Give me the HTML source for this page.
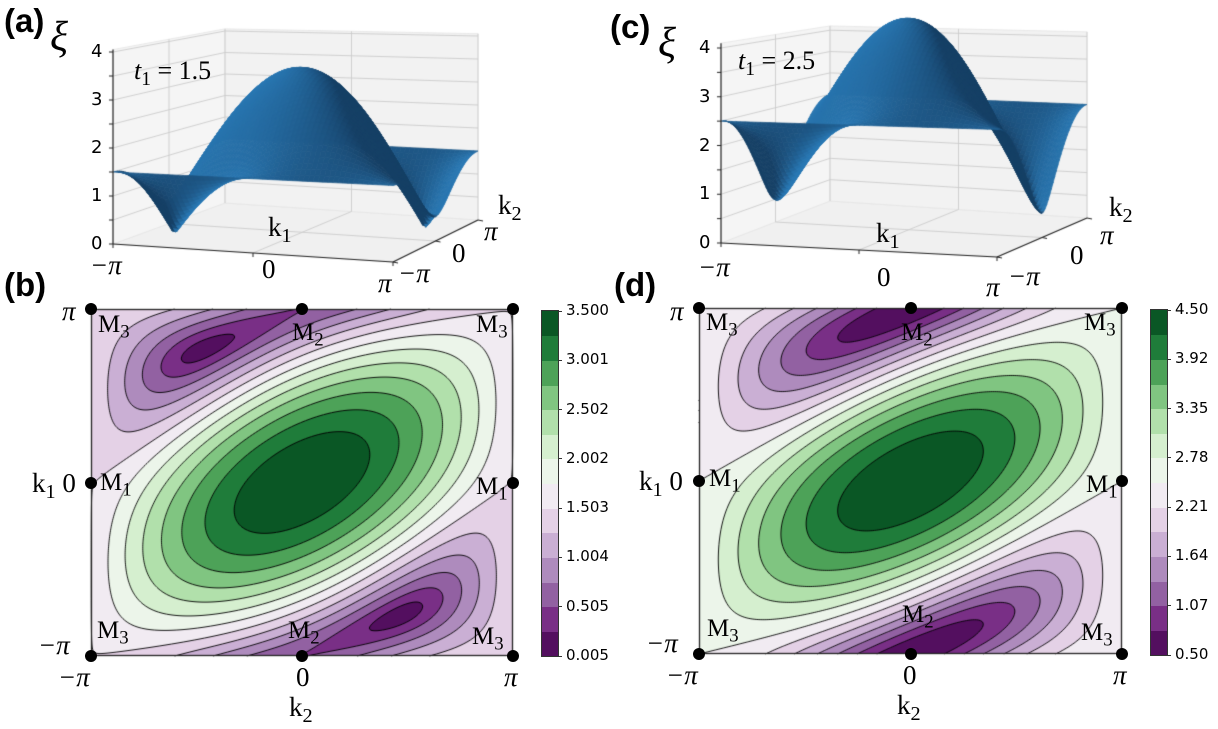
<!DOCTYPE html>
<html><head><meta charset="utf-8">
<style>
html,body{margin:0;padding:0;background:#fff;}
#root{position:relative;width:1218px;height:729px;overflow:hidden;background:#fff;}
canvas{position:absolute;left:0;top:0;}
.t{position:absolute;line-height:1;white-space:nowrap;color:#000;}
.sans{font-family:"DejaVu Sans","Liberation Sans",sans-serif;}
.serif{font-family:"Liberation Serif","DejaVu Serif",serif;}
.pl{font-family:"Liberation Sans",sans-serif;font-weight:bold;font-size:33px;}
.it{font-style:italic;}
sub{font-size:75%;vertical-align:-0.3em;line-height:0;}
.cb{position:absolute;}
.mk{position:absolute;width:12px;height:12px;border-radius:50%;background:#000;}
</style></head>
<body>
<div id="root">
<canvas id="cv" width="1218" height="729"></canvas>

<div class="t pl" style="left:4px;top:4px">(a)</div>
<div class="t pl" style="left:610px;top:10px">(c)</div>
<div class="t pl" style="left:4px;top:268px">(b)</div>
<div class="t pl" style="left:614px;top:268px">(d)</div>

<div class="t serif it" style="left:50px;top:16px;font-size:42px">ξ</div>
<div class="t serif" style="left:134px;top:58px;font-size:26px"><i>t</i><sub>1</sub> = 1.5</div>
<div class="t serif" style="left:268px;top:214px;font-size:27px">k<sub>1</sub></div>
<div class="t serif" style="left:498px;top:192px;font-size:27px">k<sub>2</sub></div>
<div class="t serif it" style="left:90px;top:252px;font-size:27px">−π</div>
<div class="t serif" style="left:262px;top:256px;font-size:27px">0</div>
<div class="t serif it" style="left:378px;top:270px;font-size:27px">π</div>
<div class="t serif it" style="left:398px;top:260px;font-size:27px">−π</div>
<div class="t serif" style="left:452px;top:240px;font-size:27px">0</div>
<div class="t serif it" style="left:484px;top:218px;font-size:27px">π</div>

<div class="t serif it" style="left:658px;top:22px;font-size:42px">ξ</div>
<div class="t serif" style="left:738px;top:48px;font-size:26px"><i>t</i><sub>1</sub> = 2.5</div>
<div class="t serif" style="left:876px;top:220px;font-size:27px">k<sub>1</sub></div>
<div class="t serif" style="left:1109px;top:194px;font-size:27px">k<sub>2</sub></div>
<div class="t serif it" style="left:698px;top:254px;font-size:27px">−π</div>
<div class="t serif" style="left:877px;top:264px;font-size:27px">0</div>
<div class="t serif it" style="left:986px;top:274px;font-size:27px">π</div>
<div class="t serif it" style="left:1008px;top:263px;font-size:27px">−π</div>
<div class="t serif" style="left:1070px;top:242px;font-size:27px">0</div>
<div class="t serif it" style="left:1100px;top:222px;font-size:27px">π</div>

<div class="t serif it" style="left:62px;top:298px;font-size:27px">π</div>
<div class="t serif" style="left:32px;top:470px;font-size:27px">k<sub>1</sub> 0</div>
<div class="t serif it" style="left:38px;top:632px;font-size:27px">−π</div>
<div class="t serif it" style="left:58px;top:664px;font-size:27px">−π</div>
<div class="t serif" style="left:296px;top:664px;font-size:27px">0</div>
<div class="t serif it" style="left:504px;top:664px;font-size:27px">π</div>
<div class="t serif" style="left:289px;top:694px;font-size:27px">k<sub>2</sub></div>
<div class="t serif" style="left:98px;top:312px;font-size:25px">M<sub>3</sub></div>
<div class="t serif" style="left:292px;top:320px;font-size:25px">M<sub>2</sub></div>
<div class="t serif" style="left:476px;top:312px;font-size:25px">M<sub>3</sub></div>
<div class="t serif" style="left:100px;top:470px;font-size:25px">M<sub>1</sub></div>
<div class="t serif" style="left:476px;top:474px;font-size:25px">M<sub>1</sub></div>
<div class="t serif" style="left:97px;top:618px;font-size:25px">M<sub>3</sub></div>
<div class="t serif" style="left:288px;top:618px;font-size:25px">M<sub>2</sub></div>
<div class="t serif" style="left:472px;top:624px;font-size:25px">M<sub>3</sub></div>

<div class="t serif it" style="left:670px;top:298px;font-size:27px">π</div>
<div class="t serif" style="left:639px;top:468px;font-size:27px">k<sub>1</sub> 0</div>
<div class="t serif it" style="left:646px;top:630px;font-size:27px">−π</div>
<div class="t serif it" style="left:666px;top:662px;font-size:27px">−π</div>
<div class="t serif" style="left:903px;top:662px;font-size:27px">0</div>
<div class="t serif it" style="left:1113px;top:662px;font-size:27px">π</div>
<div class="t serif" style="left:897px;top:692px;font-size:27px">k<sub>2</sub></div>
<div class="t serif" style="left:706px;top:310px;font-size:25px">M<sub>3</sub></div>
<div class="t serif" style="left:901px;top:320px;font-size:25px">M<sub>2</sub></div>
<div class="t serif" style="left:1084px;top:310px;font-size:25px">M<sub>3</sub></div>
<div class="t serif" style="left:709px;top:466px;font-size:25px">M<sub>1</sub></div>
<div class="t serif" style="left:1086px;top:472px;font-size:25px">M<sub>1</sub></div>
<div class="t serif" style="left:707px;top:616px;font-size:25px">M<sub>3</sub></div>
<div class="t serif" style="left:902px;top:602px;font-size:25px">M<sub>2</sub></div>
<div class="t serif" style="left:1081px;top:620px;font-size:25px">M<sub>3</sub></div>
</div>

<script>
// ---- data ----
const t1Values = [1.5, 2.5];
const levelRangeB = [0.005, 3.5];
const levelRangeD = [0.5, 4.5];
const nBands = 14;
const cbTicksB = ["0.005","0.505","1.004","1.503","2.002","2.502","3.001","3.500"];
const cbTicksD = ["0.50","1.07","1.64","2.21","2.78","3.35","3.92","4.50"];
const zTicks = ["0","1","2","3","4"];
const markerK2 = [-1, 0, 1, -1, 1, -1, 0, 1];   // in units of pi
const markerK1 = [1, 1, 1, 0, 0, -1, -1, -1];

const PI = Math.PI;
const root = document.getElementById('root');
const ctx = document.getElementById('cv').getContext('2d');

function xi(t, k1, k2){
  const re = t + Math.cos(k1) + Math.cos(k1 - k2);
  const im = Math.sin(k1) + Math.sin(k1 - k2);
  return Math.sqrt(re*re + im*im);
}
const PRGN = [[64,0,75],[118,42,131],[153,112,171],[194,165,207],[231,212,232],[247,247,247],[217,240,211],[166,219,160],[90,174,97],[27,120,55],[0,68,27]];
function cmap(f){
  f = Math.max(0, Math.min(1, f)) * 10;
  const i = Math.min(9, Math.floor(f)), r = f - i;
  const a = PRGN[i], b = PRGN[i+1];
  return [0,1,2].map(c => Math.round(a[c] + (b[c]-a[c])*r));
}

function contourPanel(box, t, range, ticks, cbBox, tag){
  const lo = range[0], hi = range[1], step = (hi - lo) / nBands;
  const img = ctx.createImageData(box.w, box.h);
  for (let py = 0; py < box.h; py++){
    const k1 = PI - (py + 0.5) / box.h * 2 * PI;
    for (let px = 0; px < box.w; px++){
      const k2 = -PI + (px + 0.5) / box.w * 2 * PI;
      let b = Math.floor((xi(t, k1, k2) - lo) / step);
      b = Math.max(0, Math.min(nBands - 1, b));
      const c = cmap((b + 0.5) / nBands);
      const o = (py * box.w + px) * 4;
      img.data[o] = c[0]; img.data[o+1] = c[1]; img.data[o+2] = c[2]; img.data[o+3] = 255;
    }
  }
  ctx.putImageData(img, box.x, box.y);
  const nx = Math.round(box.w / 2), ny = Math.round(box.h / 2);
  const V = [];
  for (let j = 0; j <= ny; j++){
    const row = [];
    const k1 = PI - j / ny * 2 * PI;
    for (let i = 0; i <= nx; i++) row.push(xi(t, k1, -PI + i / nx * 2 * PI));
    V.push(row);
  }
  ctx.save();
  ctx.strokeStyle = 'rgba(0,0,0,0.9)'; ctx.lineWidth = 1;
  ctx.beginPath();
  const X = i => box.x + i / nx * box.w, Y = j => box.y + j / ny * box.h;
  for (let m = 1; m < nBands; m++){
    const L = lo + m * step;
    for (let j = 0; j < ny; j++) for (let i = 0; i < nx; i++){
      const a = V[j][i], b = V[j][i+1], c = V[j+1][i+1], d = V[j+1][i];
      const pts = [];
      if ((a - L) * (b - L) < 0){ const r = (L - a) / (b - a); pts.push([X(i + r), Y(j)]); }
      if ((b - L) * (c - L) < 0){ const r = (L - b) / (c - b); pts.push([X(i + 1), Y(j + r)]); }
      if ((d - L) * (c - L) < 0){ const r = (L - d) / (c - d); pts.push([X(i + r), Y(j + 1)]); }
      if ((a - L) * (d - L) < 0){ const r = (L - a) / (d - a); pts.push([X(i), Y(j + r)]); }
      for (let p = 0; p + 1 < pts.length; p += 2){ ctx.moveTo(pts[p][0], pts[p][1]); ctx.lineTo(pts[p+1][0], pts[p+1][1]); }
    }
  }
  ctx.stroke();
  ctx.strokeStyle = '#222'; ctx.lineWidth = 1.3;
  ctx.strokeRect(box.x + 0.5, box.y + 0.5, box.w - 1, box.h - 1);
  ctx.restore();
  for (let n = 0; n < markerK1.length; n++){
    const m = document.createElement('div');
    m.className = 'mk';
    
    
    const x = box.x + (markerK2[n] + 1) / 2 * box.w, y = box.y + (1 - markerK1[n]) / 2 * box.h;
    m.style.left = (x - 6) + 'px'; m.style.top = (y - 6) + 'px';
    root.appendChild(m);
  }
  const bh = cbBox.h / nBands;
  for (let b = 0; b < nBands; b++){
    const c = cmap((b + 0.5) / nBands);
    const r = document.createElement('div');
    r.className = 'cb';
    
    
    r.style.left = cbBox.x + 'px'; r.style.width = cbBox.w + 'px';
    r.style.top = (cbBox.y + cbBox.h - (b + 1) * bh) + 'px'; r.style.height = (bh + 0.6) + 'px';
    r.style.background = 'rgb(' + c.join(',') + ')';
    root.appendChild(r);
  }
  const fr = document.createElement('div');
  fr.className = 'cb';
  
  
  fr.style.cssText += 'left:' + (cbBox.x - 1) + 'px;top:' + (cbBox.y - 1) + 'px;width:' + cbBox.w + 'px;height:' + cbBox.h + 'px;border:1px solid #333;';
  root.appendChild(fr);
  for (let k = 0; k < ticks.length; k++){
    const y = cbBox.y + cbBox.h - k / (ticks.length - 1) * cbBox.h;
    const tk = document.createElement('div');
    tk.className = 'cb';
    
    
    tk.style.cssText += 'left:' + (cbBox.x + cbBox.w) + 'px;top:' + (y - 0.5) + 'px;width:4px;height:1px;background:#333;';
    root.appendChild(tk);
    const lb = document.createElement('div');
    lb.className = 't sans';
    
    
    lb.style.left = (cbBox.x + cbBox.w + 8) + 'px'; lb.style.top = (y - 8) + 'px'; lb.style.fontSize = '15px';
    lb.textContent = ticks[k];
    root.appendChild(lb);
  }
}

function surfacePanel(g, t, tag){
  function P(u, v, z){
    const w = [(1-u)*(1-v), u*(1-v), (1-u)*v, u*v];
    const x = w[0]*g.FL[0] + w[1]*g.FR[0] + w[2]*g.BL[0] + w[3]*g.BR[0];
    const y = w[0]*g.FL[1] + w[1]*g.FR[1] + w[2]*g.BL[1] + w[3]*g.BR[1];
    const s = w[0]*g.s[0] + w[1]*g.s[1] + w[2]*g.s[2] + w[3]*g.s[3];
    return [x, y - z * s];
  }
  function poly(pts, fill, stroke, lw){
    ctx.beginPath(); ctx.moveTo(pts[0][0], pts[0][1]);
    for (let i = 1; i < pts.length; i++) ctx.lineTo(pts[i][0], pts[i][1]);
    ctx.closePath();
    if (fill){ ctx.fillStyle = fill; ctx.fill(); }
    if (stroke){ ctx.strokeStyle = stroke; ctx.lineWidth = lw; ctx.stroke(); }
  }
  function line(a, b, col, lw){ ctx.beginPath(); ctx.moveTo(a[0], a[1]); ctx.lineTo(b[0], b[1]); ctx.strokeStyle = col; ctx.lineWidth = lw; ctx.stroke(); }
  const zm = g.zmax;
  poly([P(0,0,0), P(1,0,0), P(1,1,0), P(0,1,0)], '#f0f0f0', '#e4e4e4', 0.8);
  poly([P(0,0,0), P(0,1,0), P(0,1,zm), P(0,0,zm)], '#f5f5f5', '#e4e4e4', 0.8);
  poly([P(0,1,0), P(1,1,0), P(1,1,zm), P(0,1,zm)], '#f2f2f2', '#e4e4e4', 0.8);
  const gc = '#cccccc';
  for (let z = 0.5; z <= 4.01; z += 0.5){
    line(P(0,0,z), P(0,1,z), gc, 0.9);
    line(P(0,1,z), P(1,1,z), gc, 0.9);
  }
  line(P(0,0.5,0), P(0,0.5,zm), gc, 0.9);
  line(P(0.5,1,0), P(0.5,1,zm), gc, 0.9);
  line(P(0,1,0), P(0,1,zm), gc, 0.9);
  line(P(1,1,0), P(1,1,zm), gc, 0.9);
  line(P(0.5,0,0), P(0.5,1,0), gc, 0.9);
  line(P(0,0.5,0), P(1,0.5,0), gc, 0.9);
  const n = 56, Z = [];
  for (let i = 0; i <= n; i++){
    const row = [];
    for (let j = 0; j <= n; j++){
      const k1 = -PI + i / n * 2 * PI, k2 = -PI + j / n * 2 * PI;
      row.push(xi(t, k1, -k2));
    }
    Z.push(row);
  }
  const quads = [];
  for (let i = 0; i < n; i++) for (let j = 0; j < n; j++){
    const u0 = i / n, u1 = (i + 1) / n, v0 = j / n, v1 = (j + 1) / n;
    const dzu = ((Z[i+1][j] + Z[i+1][j+1]) - (Z[i][j] + Z[i][j+1])) / 2 * n / 4 * 0.8;
    const dzv = ((Z[i][j+1] + Z[i+1][j+1]) - (Z[i][j] + Z[i+1][j])) / 2 * n / 4 * 0.8;
    let nx = -dzu, ny = -dzv, nz = 1; const nl = Math.hypot(nx, ny, nz);
    nx /= nl; ny /= nl; nz /= nl;
    const L = [-0.75, -0.05, 0.66];
    let I = nx*L[0] + ny*L[1] + nz*L[2];
    let f = Math.max(0, Math.min(1, (I - 0.1) / 0.9));
    const dark = [22,64,102], light = [42,122,182];
    const c = dark.map((d, k) => Math.round(d + (light[k] - d) * f));
    quads.push({pts: [P(u0,v0,Z[i][j]), P(u1,v0,Z[i+1][j]), P(u1,v1,Z[i+1][j+1]), P(u0,v1,Z[i][j+1])],
                d: (v0 + v1) / 2 + 0.35 * (1 - (u0 + u1) / 2), col: 'rgb(' + c.join(',') + ')'});
  }
  quads.sort((a, b) => b.d - a.d);
  for (const q of quads) poly(q.pts, q.col, q.col, 0.7);
  line(P(0,0,0), P(1,0,0), '#222', 1.2);
  line(P(1,0,0), P(1,1,0), '#222', 1.2);
  line(P(0,0,0), P(0,0,zm), '#222', 1.2);
  for (let z = 0; z <= 4.01; z += 0.5){
    const a = P(0,0,z); line(a, [a[0] - 4, a[1]], '#222', 1);
  }
  for (let k = 0; k < zTicks.length; k++){
    const a = P(0,0,Number(zTicks[k]));
    const lb = document.createElement('div');
    lb.className = 't sans';
    
    
    lb.style.left = (a[0] - 22) + 'px'; lb.style.top = (a[1] - 9) + 'px'; lb.style.fontSize = '18px';
    lb.textContent = zTicks[k];
    root.appendChild(lb);
  }
  for (const u of [0, 0.5, 1]){ const a = P(u,0,0); line(a, [a[0], a[1] + 4], '#222', 1); }
  for (const v of [0, 0.5, 1]){ const a = P(1,v,0); line(a, [a[0] + 5, a[1] + 1], '#222', 1); }
}

surfacePanel({FL:[113,244], FR:[393,262], BL:[225,203], BR:[478,220], s:[48,51,43,46], zmax:4.05}, t1Values[0], 'a');
surfacePanel({FL:[721,243], FR:[997,257], BL:[830,201], BR:[1087,218], s:[48.75,51,42.7,45.4], zmax:4.1}, t1Values[1], 'c');
contourPanel({x:91, y:309, w:422, h:347}, t1Values[0], levelRangeB, cbTicksB, {x:542, y:311, w:16, h:345}, 'b');
contourPanel({x:699, y:308, w:423, h:346}, t1Values[1], levelRangeD, cbTicksD, {x:1151, y:310, w:16, h:345}, 'd');
</script>
</body></html>
